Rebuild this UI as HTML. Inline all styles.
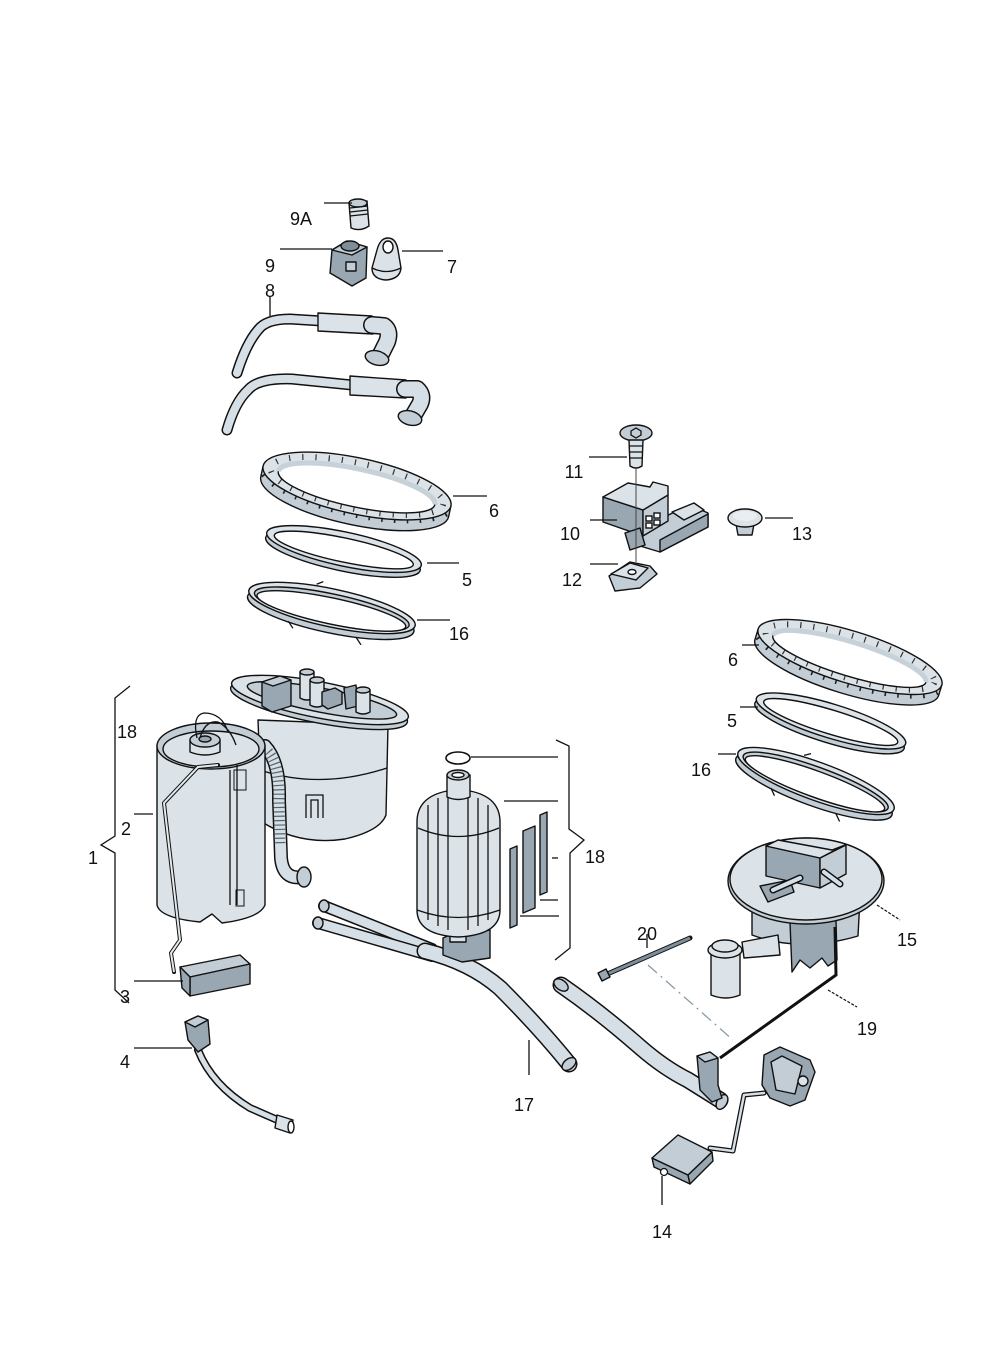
<!DOCTYPE html>
<html><head><meta charset="utf-8"><style>
html,body{margin:0;padding:0;background:#fff;}
svg{display:block;}
.l{font-family:"Liberation Sans",sans-serif;font-size:18px;fill:#111;text-anchor:middle;}
.k{stroke:#111;stroke-width:1.4;}
.ln{stroke:#111;stroke-width:1.3;fill:none;}
.a{fill:#dbe3e8;stroke:#111;stroke-width:1.4;stroke-linejoin:round;}
.b{fill:#c2cdd5;stroke:#111;stroke-width:1.4;stroke-linejoin:round;}
.c{fill:#98a7b1;stroke:#111;stroke-width:1.4;stroke-linejoin:round;}
.d{fill:#7e8e99;stroke:#111;stroke-width:1.4;stroke-linejoin:round;}
.w{fill:#fff;stroke:#111;stroke-width:1.4;}
.to{fill:none;stroke:#111;stroke-linecap:round;stroke-linejoin:round;}
.ti{fill:none;stroke:#d6dfe5;stroke-linecap:round;stroke-linejoin:round;}
</style></head><body>
<svg width="992" height="1354" viewBox="0 0 992 1354" xmlns="http://www.w3.org/2000/svg">
<defs>
<linearGradient id="cyl" x1="0" x2="1" y1="0" y2="0">
<stop offset="0" stop-color="#9eacb6"/><stop offset="0.25" stop-color="#d4dce2"/><stop offset="0.55" stop-color="#f2f5f7"/><stop offset="0.8" stop-color="#c6d0d7"/><stop offset="1" stop-color="#95a4ae"/>
</linearGradient>
<linearGradient id="cyl2" x1="0" x2="1" y1="0" y2="0">
<stop offset="0" stop-color="#b3c0c8"/><stop offset="0.4" stop-color="#e9eef1"/><stop offset="0.7" stop-color="#d7dfe4"/><stop offset="1" stop-color="#a3b1ba"/>
</linearGradient>
</defs>
<rect width="992" height="1354" fill="#fff"/>

<!-- ===== 9A ===== -->
<path class="a" d="M349,203 L367,201 L369,226 Q360,232 351,228 Z" fill="url(#cyl)"/>
<ellipse class="b" cx="358" cy="203" rx="9" ry="4"/>
<path class="ln" d="M350,208 L368,206 M350,212 L368,210 M350,216 L368,214" stroke-width="1"/>
<!-- ===== 9 ===== -->
<path class="c" d="M332,250 L347,241 L367,247 L366,278 L352,286 L330,273 Z"/>
<path class="b" d="M347,241 L367,247 L352,255 L332,250 Z"/>
<ellipse class="d" cx="350" cy="246" rx="9" ry="5"/>
<rect class="b" x="346" y="262" width="10" height="9"/>
<!-- ===== 7 ===== -->
<path class="a" d="M377,250 Q380,238 388,238 Q396,238 398,250 L401,268 Q400,279 386,280 Q372,279 372,268 Z" fill="url(#cyl2)"/>
<path class="ln" d="M372,268 Q386,275 401,268"/>
<ellipse class="w" cx="388" cy="247" rx="5" ry="6"/>

<!-- ===== 8 hoses ===== -->
<path class="to" stroke-width="11" d="M237,373 Q246,344 258,330 Q266,319 290,319 L322,321"/>
<path class="ti" stroke-width="8" d="M237,373 Q246,344 258,330 Q266,319 290,319 L322,321"/>
<path class="a" d="M318,313 L372,316 L373,334 L318,331 Z" fill="url(#cyl2)"/>
<path class="to" stroke-width="18" d="M372,325 L384,326 Q391,331 387,342 L380,356"/>
<path class="ti" stroke-width="15" d="M372,325 L384,326 Q391,331 387,342 L380,356"/>
<ellipse class="b" cx="377" cy="358" rx="12" ry="7" transform="rotate(15 377 358)"/>
<path class="to" stroke-width="11" d="M227,430 Q235,402 248,390 Q258,378 292,379 L352,385"/>
<path class="ti" stroke-width="8" d="M227,430 Q235,402 248,390 Q258,378 292,379 L352,385"/>
<path class="a" d="M350,376 L406,380 L406,398 L350,395 Z" fill="url(#cyl2)"/>
<path class="to" stroke-width="18" d="M405,389 L417,389 Q424,395 420,404 L413,416"/>
<path class="ti" stroke-width="15" d="M405,389 L417,389 Q424,395 420,404 L413,416"/>
<ellipse class="b" cx="410" cy="418" rx="12" ry="7" transform="rotate(15 410 418)"/>

<!-- ===== ring 6 left ===== -->
<g transform="translate(357,486) rotate(12)">
<path class="b" d="M-96,0 L-96,11 A96,28 0 0 0 96,11 L96,0 Z"/>
<path d="M-92,6 A96,28 0 0 0 92,6" fill="none" stroke="#222" stroke-width="11" stroke-dasharray="1.6 11"/>
<ellipse class="a" cx="0" cy="0" rx="96" ry="28"/>
<ellipse cx="0" cy="0" rx="88" ry="23" fill="none" stroke="#333" stroke-width="6" stroke-dasharray="1.2 12"/>
<ellipse class="w" cx="0" cy="2" rx="80" ry="19"/>
<path d="M-80,2 A80,19 0 0 1 80,2" fill="none" stroke="#c7d1d8" stroke-width="5"/>
</g>
<!-- ===== ring 5 left ===== -->
<g transform="translate(344,549) rotate(12)">
<ellipse class="b" cx="0" cy="5" rx="79" ry="17"/>
<ellipse class="a" cx="0" cy="0" rx="79" ry="17"/>
<ellipse class="w" cx="0" cy="1" rx="71" ry="12"/>
</g>
<!-- ===== ring 16 left ===== -->
<g transform="translate(332,608) rotate(12)">
<ellipse class="b" cx="0" cy="6" rx="85" ry="19"/>
<ellipse class="a" cx="0" cy="0" rx="85" ry="19"/>
<ellipse class="b" cx="0" cy="1" rx="79" ry="15"/>
<ellipse class="w" cx="0" cy="3" rx="76" ry="13"/>
<path class="ln" d="M-40,22 L-34,28 M30,24 L36,30 M-20,-20 L-14,-24"/>
</g>

<!-- ===== 11 screw ===== -->
<ellipse class="b" cx="636" cy="433" rx="16" ry="8"/>
<path class="ln" d="M631,431 L636,428 L641,431 L641,435 L636,438 L631,435 Z" stroke-width="1"/>
<path class="a" d="M629,440 L643,440 L642,466 Q636,470 630,466 Z" fill="url(#cyl2)"/>
<path class="ln" d="M629,446 L643,446 M629,452 L643,452 M629,458 L643,458" stroke-width="1"/>
<!-- ===== 10 bracket ===== -->
<path class="b" d="M640,528 L690,505 L708,513 L708,527 L660,552 L640,546 Z"/>
<path class="c" d="M660,540 L708,514 L708,527 L660,552 Z"/>
<path class="a" d="M672,512 L694,503 L704,510 L684,520 Z"/>
<path class="c" d="M603,497 L643,510 L643,536 L603,522 Z"/>
<path class="b" d="M643,510 L668,495 L668,521 L643,536 Z"/>
<path class="a" d="M603,497 L628,483 L650,487 L653,482 L668,486 L668,495 L643,510 Z"/>
<rect class="w" x="646" y="516" width="6" height="5"/><rect class="w" x="654" y="513" width="6" height="5"/>
<rect class="w" x="646" y="523" width="6" height="5"/><rect class="w" x="654" y="520" width="6" height="5"/>
<path class="c" d="M625,533 L640,528 L645,545 L630,550 Z"/>
<line x1="636" y1="468" x2="636" y2="562" stroke="#444" stroke-width="1"/>
<!-- ===== 12 clip ===== -->
<path class="b" d="M609,576 L630,562 L650,566 L657,574 L640,588 L615,591 Z"/>
<path class="a" d="M611,574 L630,563 L648,568 L636,580 Z"/>
<ellipse class="w" cx="632" cy="572" rx="4" ry="2.5"/>
<!-- ===== 13 cap ===== -->
<path class="b" d="M736,524 L754,524 L752,535 L738,535 Z"/>
<ellipse class="a" cx="745" cy="518" rx="17" ry="9"/>
<ellipse cx="745" cy="516" rx="12" ry="5" fill="#e9eef1"/>

<!-- ===== right rings ===== -->
<g transform="translate(850,657) rotate(17)">
<path class="b" d="M-96,0 L-96,11 A96,26 0 0 0 96,11 L96,0 Z"/>
<path d="M-92,6 A96,26 0 0 0 92,6" fill="none" stroke="#222" stroke-width="11" stroke-dasharray="1.6 11"/>
<ellipse class="a" cx="0" cy="0" rx="96" ry="26"/>
<ellipse cx="0" cy="0" rx="88" ry="21" fill="none" stroke="#333" stroke-width="6" stroke-dasharray="1.2 12"/>
<ellipse class="w" cx="0" cy="2" rx="80" ry="17"/>
<path d="M-80,2 A80,17 0 0 1 80,2" fill="none" stroke="#c7d1d8" stroke-width="5"/>
</g>
<g transform="translate(831,721) rotate(17)">
<ellipse class="b" cx="0" cy="5" rx="78" ry="17"/>
<ellipse class="a" cx="0" cy="0" rx="78" ry="17"/>
<ellipse class="w" cx="0" cy="1" rx="70" ry="12"/>
</g>
<g transform="translate(816,781) rotate(20)">
<ellipse class="b" cx="0" cy="6" rx="83" ry="19"/>
<ellipse class="a" cx="0" cy="0" rx="83" ry="19"/>
<ellipse class="b" cx="0" cy="1" rx="77" ry="15"/>
<ellipse class="w" cx="0" cy="3" rx="74" ry="13"/>
<path class="ln" d="M-40,22 L-34,28 M30,24 L36,30 M-20,-20 L-14,-24"/>
</g>

<!-- ===== pump assembly: rear cylinder ===== -->
<path class="a" d="M258,720 L262,822 Q300,846 345,839 Q380,831 386,815 L388,725 Z" fill="url(#cyl2)"/>
<path class="ln" d="M260,770 Q320,790 387,768"/>
<path class="ln" d="M306,818 L306,795 L323,795 L323,818 M311,818 L311,800 L318,800 L318,818" stroke-width="1.2"/>
<!-- flange -->
<g transform="translate(320,700) rotate(11)">
<ellipse class="b" cx="0" cy="5" rx="90" ry="18"/>
<ellipse class="a" cx="0" cy="0" rx="90" ry="18"/>
<ellipse class="b" cx="2" cy="0" rx="76" ry="12"/>
</g>
<!-- top components -->
<path class="c" d="M262,682 L280,676 L291,680 L291,706 L272,712 L262,706 Z"/>
<path class="b" d="M262,682 L280,676 L291,680 L273,686 Z"/>
<path class="a" d="M300,672 L314,672 L314,698 Q307,702 300,698 Z" fill="url(#cyl)"/><ellipse class="b" cx="307" cy="672" rx="7" ry="3"/>
<path class="a" d="M310,680 L324,680 L324,705 Q317,709 310,705 Z" fill="url(#cyl)"/><ellipse class="b" cx="317" cy="680" rx="7" ry="3"/>
<path class="c" d="M322,692 L335,688 L342,692 L342,704 L328,709 L322,705 Z"/>
<path class="c" d="M344,688 L356,685 L358,706 L346,709 Z"/>
<path class="a" d="M356,690 L370,690 L370,712 Q363,716 356,712 Z" fill="url(#cyl)"/><ellipse class="b" cx="363" cy="690" rx="7" ry="3"/>
<!-- corrugated hose -->
<path class="to" stroke-width="14" d="M265,746 Q280,762 279,800 L281,858 Q283,880 302,877"/>
<path class="ti" stroke-width="11" d="M265,746 Q280,762 279,800 L281,858 Q283,880 302,877"/>
<path fill="none" stroke="#55646e" stroke-width="11" stroke-dasharray="1.2 3.2" d="M268,752 Q280,765 279,800 L280,845"/>
<ellipse class="b" cx="304" cy="877" rx="7" ry="10"/>
<!-- front canister -->
<path class="a" d="M157,745 L157,905 Q160,918 200,922 L212,914 L222,923 Q260,918 265,905 L265,745 Z" fill="url(#cyl)"/>
<ellipse class="b" cx="211" cy="746" rx="54" ry="23"/>
<ellipse class="a" cx="211" cy="749" rx="48" ry="18"/>
<path class="a" d="M190,740 L220,740 L220,752 Q205,758 190,752 Z"/>
<ellipse class="b" cx="205" cy="740" rx="15" ry="7"/>
<ellipse class="c" cx="205" cy="739" rx="6" ry="3"/>
<path class="ln" d="M197,738 Q192,715 204,713 Q222,713 228,732 M200,738 Q205,720 218,722 Q230,728 236,745" stroke-width="1.6"/>
<path class="ln" d="M237,765 L237,905 M230,770 L230,905" stroke-width="1"/>
<rect x="234" y="770" width="12" height="20" fill="none" stroke="#111" stroke-width="1"/>
<rect x="236" y="890" width="8" height="16" fill="none" stroke="#111" stroke-width="1"/>
<!-- float arm -->
<path class="to" stroke-width="4" d="M218,765 L198,767 L164,803 L180,940 L171,953 L174,972"/>
<path fill="none" stroke="#e3e9ed" stroke-width="2" d="M218,765 L198,767 L164,803 L180,940 L171,953 L174,972"/>
<!-- 3 sender block -->
<path class="b" d="M180,967 L240,955 L250,964 L190,977 Z"/>
<path class="c" d="M190,977 L250,964 L250,984 L190,996 Z"/>
<path class="c" d="M180,967 L190,977 L190,996 L182,988 Z"/>

<!-- ===== 4 ===== -->
<path class="to" stroke-width="8" d="M198,1050 Q212,1085 250,1108 L282,1122"/>
<path class="ti" stroke-width="5" d="M198,1050 Q212,1085 250,1108 L282,1122"/>
<path class="a" d="M277,1115 L293,1120 L290,1133 L275,1128 Z"/>
<ellipse class="w" cx="291" cy="1127" rx="3" ry="6"/>
<path class="c" d="M185,1022 L198,1016 L208,1020 L210,1044 L198,1052 L188,1040 Z"/>
<path class="b" d="M185,1022 L198,1016 L208,1020 L195,1027 Z"/>

<!-- ===== 17 ===== -->
<path class="to" stroke-width="12" d="M324,906 L432,949"/>
<path class="ti" stroke-width="9" d="M324,906 L432,949"/>
<path class="to" stroke-width="12" d="M318,923 L432,956"/>
<path class="ti" stroke-width="9" d="M318,923 L432,956"/>
<path class="to" stroke-width="17" d="M425,951 Q470,962 500,988 Q540,1028 569,1064"/>
<path class="ti" stroke-width="14" d="M425,951 Q470,962 500,988 Q540,1028 569,1064"/>
<ellipse class="b" cx="324" cy="906" rx="5" ry="6"/>
<ellipse class="b" cx="318" cy="923" rx="5" ry="6"/>
<ellipse class="b" cx="569" cy="1064" rx="8" ry="5" transform="rotate(-40 569 1064)"/>

<!-- ===== filter ===== -->
<ellipse cx="458" cy="758" rx="12" ry="6" fill="none" stroke="#111" stroke-width="1.6"/>
<path class="c" d="M443,938 L452,934 L490,930 L490,958 L462,962 L443,955 Z"/>
<rect class="a" x="450" y="926" width="16" height="16"/>
<path class="a" d="M417,822 Q417,797 447,791 L470,791 Q500,797 500,822 L500,910 Q500,935 458,937 Q417,935 417,910 Z" fill="url(#cyl)"/>
<path class="ln" d="M417,910 Q458,925 500,910" stroke-width="1"/>
<path class="ln" d="M418,828 Q458,845 499,828" stroke-width="0.8"/>
<path class="ln" d="M428,805 L428,920 M438,798 L438,926 M448,795 L448,930 M468,795 L468,930 M478,798 L478,926 M488,805 L488,920" stroke-width="0.9"/>
<path class="a" d="M447,775 L470,775 L470,797 Q458,802 447,797 Z" fill="url(#cyl)"/>
<ellipse class="b" cx="458" cy="775" rx="11" ry="5"/>
<ellipse class="w" cx="458" cy="775" rx="6" ry="2.5"/>
<!-- strips -->
<path class="c" d="M510,849 L517,846 L517,925 L510,928 Z"/>
<path class="c" d="M523,831 L535,826 L535,908 L523,913 Z"/>
<path class="c" d="M540,815 L547,812 L547,892 L540,895 Z"/>

<!-- ===== 15 ===== -->
<path class="b" d="M752,898 L752,935 Q800,953 858,936 L860,898 Z"/>
<path class="c" d="M790,922 L836,920 L837,960 L828,966 L822,958 L810,968 L800,960 L792,972 Z"/>
<path class="a" d="M742,942 L778,935 L780,955 L744,958 Z"/>
<path class="a" d="M711,950 L740,950 L740,995 Q726,1001 711,995 Z" fill="url(#cyl)"/>
<ellipse class="a" cx="725" cy="950" rx="17" ry="8"/>
<ellipse class="a" cx="725" cy="946" rx="13" ry="6"/>
<ellipse class="b" cx="806" cy="881" rx="78" ry="43"/>
<ellipse class="a" cx="806" cy="879" rx="76" ry="41"/>
<path class="c" d="M766,846 L820,858 L820,888 L766,876 Z"/>
<path class="b" d="M820,858 L846,845 L846,874 L820,888 Z"/>
<path class="a" d="M766,846 L778,840 L832,850 L845,845 L820,858 Z"/>
<path class="c" d="M760,886 L790,880 L794,892 L768,902 Z"/>
<path class="to" stroke-width="7" d="M773,890 L800,878"/><path class="ti" stroke-width="4" d="M773,890 L800,878"/>
<path class="to" stroke-width="7" d="M824,872 L840,884"/><path class="ti" stroke-width="4" d="M824,872 L840,884"/>

<!-- ===== 20 tie ===== -->
<path class="to" stroke-width="5" d="M605,975 L690,938"/>
<path fill="none" stroke="#7e8e99" stroke-width="3" d="M605,975 L690,938"/>
<path class="c" d="M598,973 L606,969 L610,977 L602,981 Z"/>

<!-- ===== 19 wire ===== -->
<path fill="none" stroke="#111" stroke-width="3" d="M835,927 L836,975 L720,1058"/>
<path fill="none" stroke="#7f97a6" stroke-width="1.2" stroke-dasharray="12 5 2 5" d="M648,965 L733,1040"/>

<!-- ===== right hose ===== -->
<path class="to" stroke-width="17" d="M561,985 Q600,1012 640,1047 Q664,1068 688,1080 L720,1100"/>
<path class="ti" stroke-width="14" d="M561,985 Q600,1012 640,1047 Q664,1068 688,1080 L720,1100"/>
<ellipse class="b" cx="561" cy="985" rx="8" ry="5" transform="rotate(35 561 985)"/>
<ellipse class="b" cx="722" cy="1102" rx="5" ry="8" transform="rotate(30 722 1102)"/>
<path class="c" d="M697,1056 L710,1052 L718,1058 L718,1085 L722,1098 L712,1102 L700,1090 Z"/>
<path class="b" d="M697,1056 L710,1052 L718,1058 L705,1062 Z"/>

<!-- ===== 14 ===== -->
<path class="to" stroke-width="5" d="M764,1093 L744,1095 L733,1151 L710,1148"/>
<path class="ti" stroke-width="2.5" d="M764,1093 L744,1095 L733,1151 L710,1148"/>
<path class="c" d="M764,1055 L780,1047 L810,1060 L815,1072 L805,1100 L790,1106 L770,1098 L762,1085 Z"/>
<path class="b" d="M771,1062 L782,1056 L802,1066 L795,1094 L776,1090 Z"/>
<ellipse class="a" cx="803" cy="1081" rx="5" ry="5"/>
<path class="c" d="M652,1158 L688,1175 L690,1184 L654,1167 Z"/>
<path class="c" d="M688,1175 L712,1152 L713,1161 L690,1184 Z"/>
<path class="b" d="M652,1158 L678,1135 L712,1152 L688,1175 Z"/>
<circle cx="664" cy="1172" r="3.5" fill="#fff" stroke="#111" stroke-width="1.2"/>

<!-- ===== leader lines ===== -->
<g class="ln">
<path d="M324,203 L352,203"/>
<path d="M280,249 L332,249"/>
<path d="M402,251 L443,251"/>
<path d="M270,296 L270,316"/>
<path d="M453,496 L487,496"/>
<path d="M427,563 L459,563"/>
<path d="M417,620 L450,620"/>
<path d="M589,457 L627,457"/>
<path d="M590,520 L617,520"/>
<path d="M590,564 L618,564"/>
<path d="M765,518 L793,518"/>
<path d="M742,645 L759,645"/>
<path d="M740,707 L758,707"/>
<path d="M718,754 L736,754"/>
<path d="M130,686 L115,698 L115,836 L101,845 L115,853 L115,990 L129,1003"/>
<path d="M134,814 L153,814"/>
<path d="M134,981 L183,981"/>
<path d="M134,1048 L192,1048"/>
<path d="M471,757 L558,757"/>
<path d="M504,801 L558,801"/>
<path d="M552,858 L558,858"/>
<path d="M540,900 L558,900"/>
<path d="M520,916 L559,916"/>
<path d="M556,740 L569,746 L569,829 L584,840 L570,853 L570,948 L555,960"/>
<path d="M647,934 L647,948"/>
<path d="M529,1040 L529,1075"/>
<path d="M662,1176 L662,1205"/>
</g>
<path d="M877,905 L900,920" stroke="#111" stroke-width="1.2" stroke-dasharray="3 1.5" fill="none"/>
<path d="M828,990 L857,1007" stroke="#111" stroke-width="1.2" stroke-dasharray="3 1.5" fill="none"/>

<!-- ===== labels ===== -->
<text class="l" x="301" y="225">9A</text>
<text class="l" x="270" y="272">9</text>
<text class="l" x="452" y="273">7</text>
<text class="l" x="270" y="297">8</text>
<text class="l" x="494" y="517">6</text>
<text class="l" x="467" y="586">5</text>
<text class="l" x="459" y="640">16</text>
<text class="l" x="574" y="478">11</text>
<text class="l" x="570" y="540">10</text>
<text class="l" x="572" y="586">12</text>
<text class="l" x="802" y="540">13</text>
<text class="l" x="733" y="666">6</text>
<text class="l" x="732" y="727">5</text>
<text class="l" x="701" y="776">16</text>
<text class="l" x="127" y="738">18</text>
<text class="l" x="126" y="835">2</text>
<text class="l" x="93" y="864">1</text>
<text class="l" x="125" y="1003">3</text>
<text class="l" x="125" y="1068">4</text>
<text class="l" x="595" y="863">18</text>
<text class="l" x="907" y="946">15</text>
<text class="l" x="647" y="940">20</text>
<text class="l" x="867" y="1035">19</text>
<text class="l" x="524" y="1111">17</text>
<text class="l" x="662" y="1238">14</text>
</svg>
</body></html>
